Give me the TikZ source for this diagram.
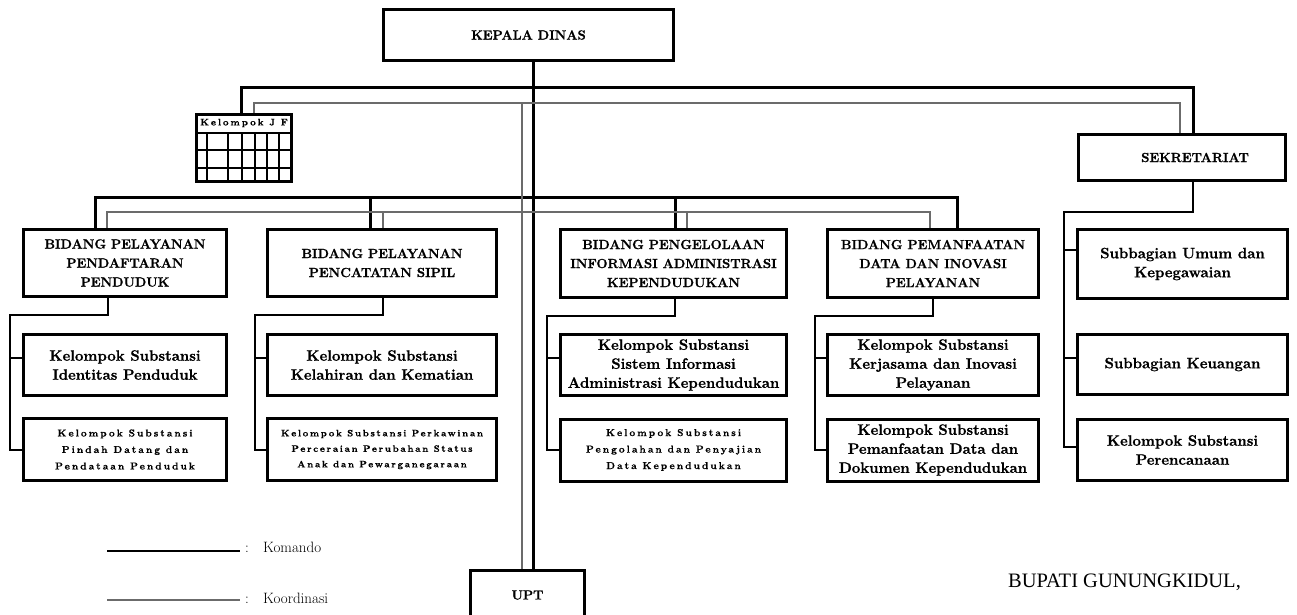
\documentclass[tikz,border=0pt]{standalone}
\usepackage{fontspec}
\setmainfont{Latin Modern Roman}
\usetikzlibrary{backgrounds}
\newfontfamily\tnr{Liberation Serif}
\tikzset{
  cmd/.style={line width=3pt, draw=black},
  thin/.style={line width=2pt, draw=black},
  koord/.style={line width=2.6pt, draw=black!58},
  obox/.style={draw=black, line width=3pt, fill=white, inner sep=0pt, align=center},
  ttl/.style={obox, font={\fontsize{13.2pt}{19pt}\selectfont\bfseries\addfontfeatures{FakeBold=1}}},
  sub/.style={obox, font={\fontsize{15pt}{19pt}\selectfont\bfseries\addfontfeatures{FakeBold=1}}},
  spc/.style={obox, font={\fontsize{10pt}{16.5pt}\selectfont\bfseries\addfontfeatures{LetterSpace=20,FakeBold=0.5}}},
  spcs/.style={obox, font={\fontsize{9.3pt}{15.5pt}\selectfont\bfseries\addfontfeatures{LetterSpace=18,FakeBold=0.5}}},
  jft/.style={inner sep=0pt, font={\fontsize{9.5pt}{11pt}\selectfont\bfseries\addfontfeatures{LetterSpace=20,FakeBold=0.5}}},
  leg/.style={inner sep=0pt, font={\fontsize{15pt}{16pt}\selectfont}},
}
\begin{document}
\begin{tikzpicture}[x=1pt,y=-1pt]
\useasboundingbox (0,0) rectangle (1297,615);
% top boxes
\node[ttl, minimum width=290pt, minimum height=51pt] (kd) at (528.5,35) {KEPALA DINAS};
\node[obox, line width=2.5pt, minimum width=95pt, minimum height=67pt] (jf) at (244,148) {};
\node[jft] (jfh) at (244,123) {Kelompok J F};
\node[ttl, minimum width=207pt, minimum height=46pt] (sek) at (1182,157.5) {\hspace*{26pt}SEKRETARIAT};
\node[ttl, minimum width=114pt, minimum height=50pt] (upt) at (527.5,595) {UPT};
% bidang boxes
\node[ttl, minimum width=203pt, minimum height=67pt] (b1) at (125,263) {BIDANG PELAYANAN\\PENDAFTARAN\\PENDUDUK};
\node[ttl, minimum width=229pt, minimum height=67pt] (b2) at (382,263) {BIDANG PELAYANAN\\PENCATATAN SIPIL};
\node[ttl, minimum width=226pt, minimum height=68pt] (b3) at (673.5,263.5) {BIDANG PENGELOLAAN\\INFORMASI ADMINISTRASI\\KEPENDUDUKAN};
\node[ttl, minimum width=211pt, minimum height=68pt] (b4) at (933,263.5) {BIDANG PEMANFAATAN\\DATA DAN INOVASI\\PELAYANAN};
% sub boxes
\node[sub, minimum width=203pt, minimum height=61pt] (b1a) at (125,365) {Kelompok Substansi\\Identitas Penduduk};
\node[spc, minimum width=203pt, minimum height=62pt] (b1b) at (125,449.5) {Kelompok Substansi\\Pindah Datang dan\\Pendataan Penduduk};
\node[sub, minimum width=229pt, minimum height=61pt] (b2a) at (382,365) {Kelompok Substansi\\Kelahiran dan Kematian};
\node[spcs, minimum width=229pt, minimum height=62pt] (b2b) at (382,449.5) {Kelompok Substansi Perkawinan\\Perceraian Perubahan Status\\Anak dan Pewarganegaraan};
\node[sub, minimum width=226pt, minimum height=61pt] (b3a) at (673.5,365) {Kelompok Substansi\\Sistem Informasi\\Administrasi Kependudukan};
\node[spc, minimum width=226pt, minimum height=62pt] (b3b) at (673.5,450) {Kelompok Substansi\\Pengolahan dan Penyajian\\Data Kependudukan};
\node[sub, minimum width=211pt, minimum height=61pt] (b4a) at (933,365) {Kelompok Substansi\\Kerjasama dan Inovasi\\Pelayanan};
\node[sub, minimum width=211pt, minimum height=62pt] (b4b) at (933,450) {Kelompok Substansi\\Pemanfaatan Data dan\\Dokumen Kependudukan};
\node[sub, minimum width=210pt, minimum height=69pt] (s1) at (1182.5,264) {Subbagian Umum dan\\Kepegawaian};
\node[sub, minimum width=210pt, minimum height=60pt] (s2) at (1182.5,364.5) {Subbagian Keuangan};
\node[sub, minimum width=210pt, minimum height=61pt] (s3) at (1182.5,450) {Kelompok Substansi\\Perencanaan};
% JF grid
\draw[line width=2pt] (jf.west |- 0,133) -- (jf.east |- 0,133);
\foreach \yy in {150,168} \draw[line width=2pt] (jf.west |- 0,\yy) -- (jf.east |- 0,\yy);
\foreach \xx in {207,228,242,255,267,279} \draw[line width=2pt] (jf.south -| \xx,0) -- (\xx,133);
% connectors behind the boxes
\begin{scope}[on background layer]
  % command lines
  \draw[cmd] (kd.south -| 533,0) -- (upt.north -| 533,0);
  \draw[cmd] (jf.north -| 241,0) |- (1193,88) -- (sek.north -| 1193,0);
  \draw[cmd] (b1.north -| 95,0) |- (957,197) -- (b4.north -| 957,0);
  \draw[cmd] (370,197) -- (b2.north -| 370,0);
  \draw[cmd] (675,197) -- (b3.north -| 675,0);
  % koordinasi lines
  \draw[koord] (jf.north -| 254,0) |- (1180,103) -- (sek.north -| 1180,0);
  \draw[koord] (522,103) -- (upt.north -| 522,0);
  \draw[koord] (b1.north -| 107,0) |- (930,212) -- (b4.north -| 930,0);
  \draw[koord] (383,212) -- (b2.north -| 383,0);
  \draw[koord] (687,212) -- (b3.north -| 687,0);
  % sub connectors
  \draw[thin] (b1.south -| 108,0) |- (10,315) |- (b1b.west);
  \draw[thin] (10,358) -- (b1a.west |- 0,358);
  \draw[thin] (b2.south -| 383,0) |- (255,315) |- (b2b.west);
  \draw[thin] (255,358) -- (b2a.west |- 0,358);
  \draw[thin] (b3.south -| 675,0) |- (547,316) |- (b3b.west);
  \draw[thin] (547,358) -- (b3a.west |- 0,358);
  \draw[thin] (b4.south -| 933,0) |- (815,316) |- (b4b.west);
  \draw[thin] (815,358) -- (b4a.west |- 0,358);
  \draw[thin] (sek.south -| 1193,0) |- (1064,212) |- (s3.west |- 0,447);
  \draw[thin] (1064,250) -- (s1.west |- 0,250);
  \draw[thin] (1064,358) -- (s2.west |- 0,358);
\end{scope}
% legend
\coordinate (lk1) at (107,551);
\coordinate (lk2) at (240,551);
\coordinate (lo1) at (107,600);
\coordinate (lo2) at (240,600);
\draw[cmd, line width=2.5pt] (lk1) -- (lk2);
\draw[koord] (lo1) -- (lo2);
\node[leg, anchor=base] (c1) at (247,552) {:};
\node[leg, anchor=base west] (t1) at (263,552) {Komando};
\node[leg, anchor=base] (c2) at (247,603) {:};
\node[leg, anchor=base west] (t2) at (263,603) {Koordinasi};
\node[inner sep=0pt, anchor=base west, font={\tnr\fontsize{20.5pt}{22pt}\selectfont}] (bup) at (1008,587) {BUPATI GUNUNGKIDUL,};
\end{tikzpicture}
\end{document}
